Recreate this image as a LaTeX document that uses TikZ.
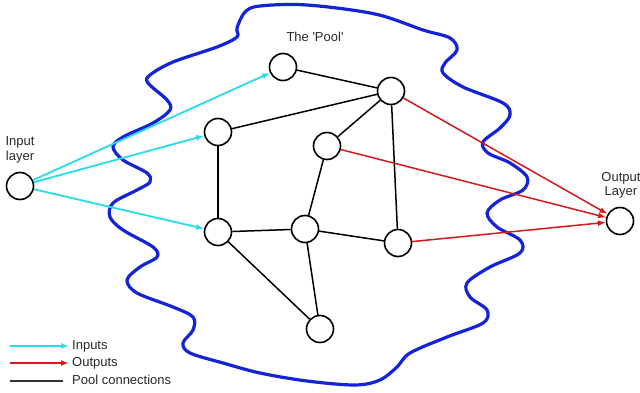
\documentclass[tikz,border=0pt]{standalone}
\usepackage{fontspec}
\setmainfont{Liberation Sans}[Ligatures=TeXOff]
\usetikzlibrary{arrows.meta}
\definecolor{incol}{RGB}{40,220,232}
\definecolor{outcol}{RGB}{215,25,30}
\definecolor{poolblue}{RGB}{20,35,215}
\definecolor{txt}{RGB}{40,40,40}
\tikzset{
  neuron/.style={circle, draw=black, line width=1.6pt, minimum size=27pt, inner sep=0pt, fill=white},
  inarrow/.style={draw=incol, line width=1.8pt, -{Latex[length=8pt,width=6pt]}},
  outarrow/.style={draw=outcol, line width=1.5pt, -{Latex[length=8pt,width=6pt]}},
  poolline/.style={draw=black, line width=1.5pt},
  lbl/.style={font=\fontsize{13pt}{14.5pt}\selectfont, text=txt, inner sep=0pt, align=center},
  legtext/.style={font=\fontsize{13pt}{14.5pt}\selectfont, text=txt, inner sep=0pt, anchor=west},
}
\begin{document}
\begin{tikzpicture}[x=1pt,y=-1pt]
\useasboundingbox (0,0) rectangle (640,393);
\fill[white] (0,0) rectangle (640,393);
% pool boundary
\draw[poolblue, line width=3.2pt, line join=round] plot[smooth cycle, tension=0.55] coordinates {
(237,28) (245,12) (260,6) (307,5) (375,14) (423,30) (450,38) (457,50) (445,63) (443,73)
(463,87) (503,103) (510,115) (500,128) (483,142) (488,153) (510,163) (527,177) (523,190)
(500,200) (487,213) (497,227) (520,240) (520,253) (490,267) (467,283) (470,297) (487,310)
(483,323) (447,337) (410,353) (397,367) (380,380) (355,385) (307,381) (260,373) (223,363)
(190,353) (183,343) (193,330) (193,317) (173,307) (137,293) (127,280) (140,267) (157,257)
(153,247) (123,230) (110,217) (113,203) (137,190) (150,182) (147,173) (123,160) (113,147)
(123,137) (153,123) (170,110) (167,100) (148,83) (150,75) (173,62) (217,47) (237,37)};
% nodes
\node[neuron] (in) at (20,186) {};
\node[neuron] (p1) at (283,67) {};
\node[neuron] (p2) at (391,91) {};
\node[neuron] (p3) at (218,132) {};
\node[neuron] (p4) at (327,146) {};
\node[neuron] (p5) at (218,232) {};
\node[neuron] (p6) at (305,229) {};
\node[neuron] (p7) at (398,243) {};
\node[neuron] (p8) at (320,329) {};
\node[neuron] (out) at (620,221) {};
% labels
\node[lbl] (inlbl) at (20,150) {Input\\layer};
\node[lbl] (outlbl) at (621,185.5) {Output\\Layer};
\node[lbl] (pool) at (315,37) {The 'Pool'};
% pool connections
\draw[poolline] (p1) -- (p2);
\draw[poolline] (p3) -- (p2);
\draw[poolline] (p2) -- (p4);
\draw[poolline] (p2) -- (p7);
\draw[poolline] (p3) -- (p5);
\draw[poolline] (p4) -- (p6);
\draw[poolline] (p5) -- (p6);
\draw[poolline] (p6) -- (p7);
\draw[poolline] (p5) -- (p8);
\draw[poolline] (p6) -- (p8);
% inputs
\draw[inarrow] (in) -- (p1);
\draw[inarrow] (in) -- (p3);
\draw[inarrow] (in) -- (p5);
% outputs
\draw[outarrow] (p2) -- (out);
\draw[outarrow] (p4) -- (out);
\draw[outarrow] (p7) -- (out);
% legend
\coordinate (l1a) at (10,346); \coordinate (l1b) at (69,346);
\coordinate (l2a) at (10,363); \coordinate (l2b) at (69,363);
\coordinate (l3a) at (10,381); \coordinate (l3b) at (63,381);
\draw[inarrow, line width=1.6pt] (l1a) -- (l1b);
\draw[outarrow, line width=1.6pt] (l2a) -- (l2b);
\draw[poolline, draw=black!80] (l3a) -- (l3b);
\node[legtext] (t1) at (72,346) {Inputs};
\node[legtext] (t2) at (72,363) {Outputs};
\node[legtext] (t3) at (72,380) {Pool connections};
\end{tikzpicture}
\end{document}
